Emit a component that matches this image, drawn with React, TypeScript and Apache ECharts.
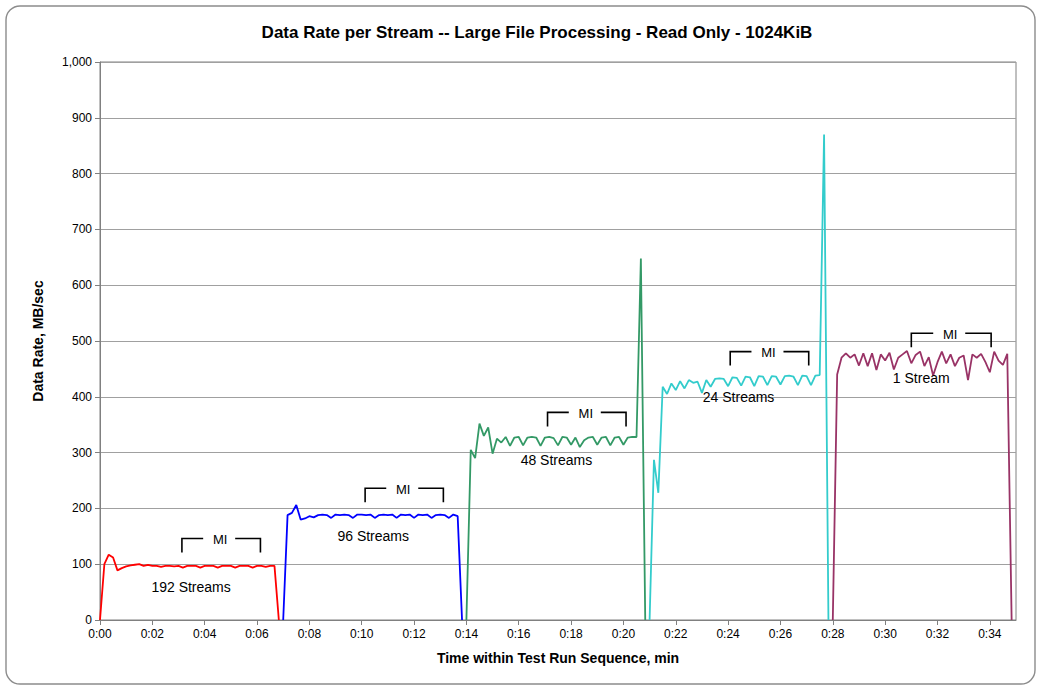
import { useEffect, useRef } from "react";
import * as echarts from "echarts";

// Sampling interval of every data series, in minutes (10-second samples)
const STEP_MIN = 1 / 6;
const FONT = "'Liberation Sans', Arial, sans-serif";

const chartTitle = "Data Rate per Stream -- Large File Processing - Read Only - 1024KiB";
const xAxisTitle = "Time within Test Run Sequence, min";
const yAxisTitle = "Data Rate, MB/sec";

const streamNames = ["192 Streams", "96 Streams", "48 Streams", "24 Streams", "1 Stream"];
const streamStartMin = [0, 7.0, 14.0, 21.0, 28.0];
const streamColors = ["#ff0000", "#0000ff", "#339966", "#33cccc", "#993366"];

const rate192 = [0, 100, 117, 112, 89, 93, 96, 98, 99, 100, 97, 99, 97, 97, 95, 97, 97, 96, 97, 94, 97, 97, 97, 94, 97, 97, 97, 94, 97, 97, 97, 94, 97, 97, 97, 94, 97, 97, 95, 97, 97, 0];
const rate96 = [0, 188, 192, 206, 180, 182, 186, 184, 188, 189, 188, 183, 189, 188, 189, 188, 183, 189, 189, 188, 189, 183, 188, 189, 188, 189, 183, 189, 188, 189, 183, 189, 188, 189, 183, 188, 189, 188, 183, 189, 186, 0];
const rate48 = [0, 305, 290, 352, 330, 345, 298, 325, 318, 328, 312, 327, 328, 313, 327, 328, 327, 312, 327, 328, 326, 313, 328, 327, 314, 327, 310, 322, 327, 328, 314, 327, 328, 313, 327, 328, 314, 327, 328, 328, 648, 0];
const rate24 = [0, 287, 228, 418, 405, 424, 412, 428, 415, 430, 425, 427, 407, 430, 418, 432, 433, 432, 419, 435, 434, 420, 436, 435, 419, 437, 436, 421, 437, 436, 422, 437, 438, 436, 421, 438, 437, 421, 438, 439, 870, 0];
const rate1 = [0, 440, 470, 478, 470, 476, 456, 478, 455, 478, 448, 476, 465, 479, 449, 470, 476, 482, 460, 475, 481, 455, 471, 438, 462, 481, 460, 476, 455, 470, 474, 430, 476, 470, 477, 462, 444, 481, 465, 457, 477, 0];
const streamRates = [rate192, rate96, rate48, rate24, rate1];

// Measurement-interval brackets ("MI")
const miStartMin = [3.13, 10.13, 17.1, 24.08, 31.0];
const miEndMin = [6.13, 13.12, 20.1, 27.08, 34.05];
const miLevel = [146, 236, 372, 481, 514];

// Stream count labels
const labelXMin = [3.48, 10.44, 17.44, 24.4, 31.38];
const labelLevel = [60, 150, 287, 399, 433];

const xMin = 0;
const xMax = 35;
const xInterval = 2;
const yMin = 0;
const yMax = 1000;
const yInterval = 100;

export default function App() {
  const ref = useRef<HTMLDivElement>(null);

  useEffect(() => {
    if (!ref.current) return;
    const chart = echarts.init(ref.current, undefined, { renderer: "svg" });

    const lineSeries = streamRates.map((vals, s) => ({
      name: streamNames[s],
      type: "line",
      showSymbol: false,
      symbol: "none",
      color: streamColors[s],
      lineStyle: { width: 1.8, color: streamColors[s] },
      data: vals.map((v, i) => [streamStartMin[s] + i * STEP_MIN, v]),
      z: 3,
    }));

    const lineStyleBracket = { stroke: "#000", lineWidth: 1.6, fill: null };

    const option: any = {
      animation: false,
      backgroundColor: "#ffffff",
      textStyle: { fontFamily: FONT },
      title: {
        text: chartTitle,
        left: 532,
        top: 19,
        textAlign: "center",
        textStyle: { fontFamily: FONT, fontSize: 17, fontWeight: "bold", color: "#000" },
      },
      grid: {
        left: 100,
        right: 25,
        top: 62,
        bottom: 70,
        show: true,
        borderColor: "#808080",
        borderWidth: 1,
        backgroundColor: "#ffffff",
      },
      xAxis: {
        type: "value",
        min: xMin,
        max: xMax,
        interval: xInterval,
        name: xAxisTitle,
        nameLocation: "middle",
        nameGap: 31,
        nameTextStyle: { fontFamily: FONT, fontSize: 14, fontWeight: "bold", color: "#000" },
        axisLine: { show: true, lineStyle: { color: "#808080", width: 1 } },
        axisTick: { show: true, inside: false, length: 5, lineStyle: { color: "#808080" } },
        axisLabel: {
          show: true,
          margin: 8,
          fontFamily: FONT,
          fontSize: 12,
          color: "#000",
          showMaxLabel: false,
          formatter: (v: number) =>
            Number.isInteger(v) && v % 2 === 0 ? `0:${String(v).padStart(2, "0")}` : "",
        },
        splitLine: { show: false },
      },
      yAxis: {
        type: "value",
        min: yMin,
        max: yMax,
        interval: yInterval,
        name: yAxisTitle,
        nameLocation: "middle",
        nameGap: 55,
        nameRotate: 90,
        nameTextStyle: { fontFamily: FONT, fontSize: 14, fontWeight: "bold", color: "#000" },
        axisLine: { show: true, lineStyle: { color: "#808080", width: 1 } },
        axisTick: { show: true, inside: false, length: 5, lineStyle: { color: "#808080" } },
        axisLabel: {
          margin: 8,
          fontFamily: FONT,
          fontSize: 12,
          color: "#000",
          formatter: (v: number) => v.toLocaleString("en-US"),
        },
        splitLine: { show: true, lineStyle: { color: "#a0a0a0", width: 1 } },
      },
      graphic: [
        {
          type: "rect",
          shape: { x: 6, y: 6, width: 1029, height: 678, r: 14 },
          style: { fill: "none", stroke: "#8c8c8c", lineWidth: 1.4 },
          silent: true,
          z: -10,
        },
      ],
      series: [
        ...lineSeries,
        {
          type: "custom",
          name: "MI",
          data: miStartMin.map((s, i) => [s, miEndMin[i], miLevel[i]]),
          encode: { x: [0, 1], y: 2 },
          z: 5,
          renderItem: (_params: any, api: any) => {
            const a = api.coord([api.value(0), api.value(2)]);
            const b = api.coord([api.value(1), api.value(2)]);
            const mid = (a[0] + b[0]) / 2;
            const y = a[1];
            const tick = 14;
            return {
              type: "group",
              children: [
                {
                  type: "polyline",
                  shape: { points: [[a[0], y + tick], [a[0], y], [mid - 18, y]] },
                  style: lineStyleBracket,
                },
                {
                  type: "polyline",
                  shape: { points: [[mid + 14, y], [b[0], y], [b[0], y + tick]] },
                  style: lineStyleBracket,
                },
                {
                  type: "text",
                  x: mid - 1,
                  y: y + 1,
                  style: {
                    text: "MI",
                    fontFamily: FONT,
                    fontSize: 13,
                    fill: "#000",
                    align: "center",
                    verticalAlign: "middle",
                  },
                },
              ],
            };
          },
        },
        {
          type: "custom",
          name: "labels",
          data: labelXMin.map((x, i) => [x, labelLevel[i]]),
          encode: { x: 0, y: 1 },
          z: 5,
          renderItem: (params: any, api: any) => {
            const p = api.coord([api.value(0), api.value(1)]);
            return {
              type: "text",
              x: p[0],
              y: p[1],
              style: {
                text: streamNames[params.dataIndex],
                fontFamily: FONT,
                fontSize: 14,
                fill: "#000",
                align: "center",
                verticalAlign: "middle",
              },
            };
          },
        },
      ],
    };

    chart.setOption(option);
    return () => chart.dispose();
  }, []);

  return (
    <div
      ref={ref}
      style={{ position: "fixed", left: 0, top: 0, width: 1041, height: 690, background: "#fff" }}
    />
  );
}
